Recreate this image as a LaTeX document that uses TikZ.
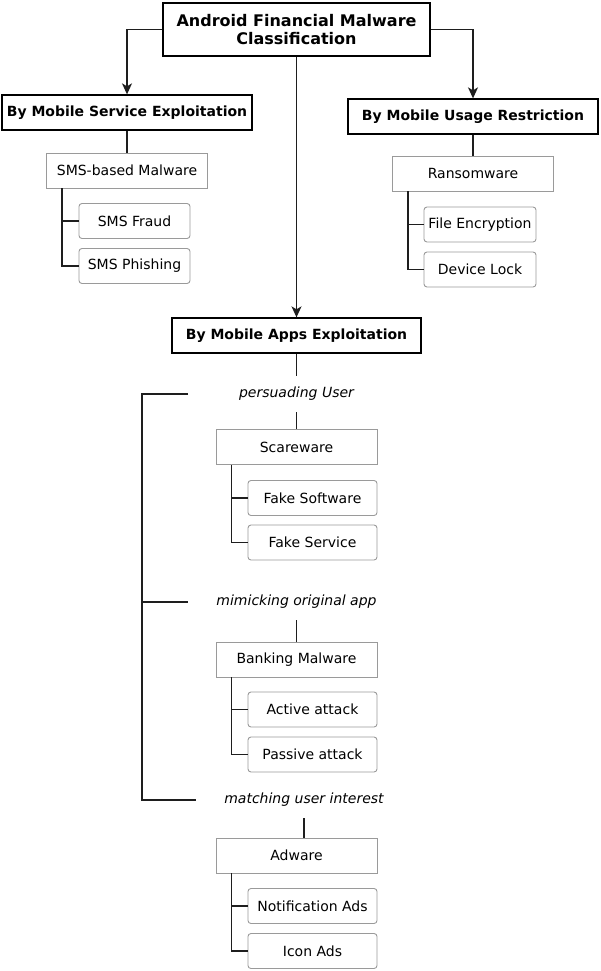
\documentclass[tikz,border=0pt]{standalone}
\usepackage{fontspec}
\setmainfont{DejaVu Sans}
\usetikzlibrary{arrows.meta}
\definecolor{boxgray}{HTML}{9A9A9A}
\definecolor{linecol}{HTML}{1E1E1E}
\begin{document}
\begin{tikzpicture}[x=1pt,y=-1pt,
  mainbox/.style={draw=black, line width=1.3pt, fill=white, inner sep=0pt,
    font=\fontsize{14}{17}\selectfont\bfseries, minimum width=250pt, minimum height=35pt},
  subbox/.style={draw=boxgray, line width=0.9pt, inner sep=0pt,
    font=\fontsize{14}{17}\selectfont, minimum width=161pt, minimum height=35pt},
  leafbox/.style={draw=boxgray, line width=0.9pt, rounded corners=3pt, inner sep=0pt,
    font=\fontsize{14}{17}\selectfont, minimum width=112pt, minimum height=35pt},
  catnote/.style={inner sep=0pt, font=\fontsize{14}{17}\selectfont\itshape, minimum height=36pt},
  conn/.style={draw=linecol, line width=1.3pt},
  arr/.style={conn, -{Stealth[length=11pt,width=10pt,inset=3pt]}}
]
\useasboundingbox (0,0) rectangle (600,971);

% top level
\node[mainbox, font=\fontsize{16}{18}\selectfont\bfseries, minimum width=267pt,
  minimum height=53pt, align=center] (top) at (296.5,29.5) {Android Financial Malware\\Classification};
\node[mainbox] (svc) at (127,112.5) {By Mobile Service Exploitation};
\node[mainbox] (usage) at (473,116.5) {By Mobile Usage Restriction};
\node[mainbox, minimum width=249pt] (apps) at (296.5,335.5) {By Mobile Apps Exploitation};

\draw[arr] (top.west) -| (svc.north);
\draw[arr] (top.east) -| (usage.north);
\draw[arr] (top.south) -- (apps.north);

% service branch
\node[subbox] (sms) at (127,170.5) {SMS-based Malware};
\node[leafbox, minimum width=111pt] (smsfraud) at (134.5,221) {SMS Fraud};
\node[leafbox, minimum width=111pt] (smsphish) at (134.5,266) {SMS Phishing};
\draw[conn] (svc.south) -- (sms.north);
\draw[conn] ([xshift=16pt]sms.south west) |- (smsphish.west);
\draw[conn] ([xshift=16pt]sms.south west |- smsfraud.west) -- (smsfraud.west);

% usage branch
\node[subbox] (ransom) at (473,173.5) {Ransomware};
\node[leafbox] (fileenc) at (480,224.5) {File Encryption};
\node[leafbox] (devlock) at (480,269.5) {Device Lock};
\draw[conn] (usage.south) -- (ransom.north);
\draw[conn] ([xshift=16pt]ransom.south west) |- (devlock.west);
\draw[conn] ([xshift=16pt]ransom.south west |- fileenc.west) -- (fileenc.west);

% apps branch
\node[catnote] (persuade) at (296.5,394) {persuading User};
\node[subbox] (scare) at (296.5,447) {Scareware};
\node[leafbox, minimum width=129pt] (fakesw) at (312.5,498) {Fake Software};
\node[leafbox, minimum width=129pt] (fakesvc) at (312.5,542.5) {Fake Service};
\draw[conn] (apps.south) -- (persuade.north);
\draw[conn] (persuade.south) -- (scare.north);
\draw[conn] ([xshift=16pt]scare.south west) |- (fakesvc.west);
\draw[conn] ([xshift=16pt]scare.south west |- fakesw.west) -- (fakesw.west);

\node[catnote] (mimic) at (296.5,602) {mimicking original app};
\node[subbox] (bank) at (296.5,659.5) {Banking Malware};
\node[leafbox, minimum width=129pt] (active) at (312.5,709.5) {Active attack};
\node[leafbox, minimum width=129pt] (passive) at (312.5,754.5) {Passive attack};
\draw[conn] (mimic.south) -- (bank.north);
\draw[conn] ([xshift=16pt]bank.south west) |- (passive.west);
\draw[conn] ([xshift=16pt]bank.south west |- active.west) -- (active.west);

\node[catnote] (match) at (304,800) {matching user interest};
\node[subbox] (adware) at (296.5,855.5) {Adware};
\node[leafbox, minimum width=129pt] (notif) at (312.5,906) {Notification Ads};
\node[leafbox, minimum width=129pt] (iconads) at (312.5,951) {Icon Ads};
\draw[conn] (match.south) -- (match.south |- adware.north);
\draw[conn] ([xshift=16pt]adware.south west) |- (iconads.west);
\draw[conn] ([xshift=16pt]adware.south west |- notif.west) -- (notif.west);

% bracket
\coordinate (bT) at (142,394);
\coordinate (bTe) at (188,394);
\coordinate (bM) at (142,602);
\coordinate (bMe) at (188,602);
\coordinate (bB) at (142,800);
\coordinate (bBe) at (196,800);
\draw[conn] (bTe) -- (bT) -- (bB) -- (bBe);
\draw[conn] (bM) -- (bMe);
\end{tikzpicture}
\end{document}
